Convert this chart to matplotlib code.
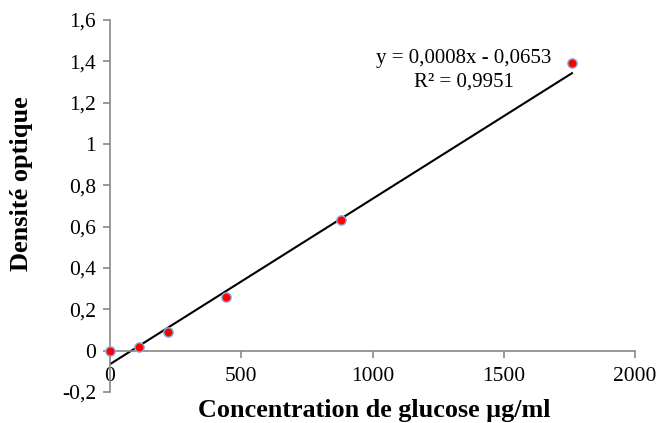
import matplotlib
matplotlib.use("Agg")
import matplotlib.pyplot as plt
import numpy as np

conc = [0, 110, 220, 440, 880, 1760]
od = [0.0, 0.02, 0.09, 0.26, 0.63, 1.39]
slope = 0.0008
intercept = -0.0653
eq_text = "y = 0,0008x - 0,0653"
r2_text = "R² = 0,9951"
xticks = [0, 500, 1000, 1500, 2000]
yticks = [-0.2, 0, 0.2, 0.4, 0.6, 0.8, 1.0, 1.2, 1.4, 1.6]

plt.rcParams['font.family'] = ['Liberation Serif', 'DejaVu Serif']

fig = plt.figure(figsize=(6.61, 4.23), dpi=100)
ax = fig.add_axes([110/661, 1-392/423, (635-110)/661, (392-20)/423])

xl = np.array([conc[0], conc[-1]])
ax.plot(xl, slope*xl + intercept, color='black', lw=1.5, zorder=2)
ax.scatter(conc, od, s=45, facecolor='#ff0000', edgecolor='#7fb2e5', linewidth=1.0, zorder=3, clip_on=False)

ax.set_xlim(0, 2000)
ax.set_ylim(-0.2, 1.6)
ax.set_xticks(xticks)
ax.set_yticks(yticks)
ax.set_xticklabels([str(v) for v in xticks])
def fmt(v):
    s = f"{v:.1f}".replace('.', ',')
    if s.endswith(',0'):
        s = s[:-2]
    return s
ax.set_yticklabels([fmt(v) for v in yticks])

for s in ['top', 'right']:
    ax.spines[s].set_visible(False)
ax.spines['bottom'].set_position(('data', 0))
for s in ['bottom', 'left']:
    ax.spines[s].set_color('#888888')
    ax.spines[s].set_linewidth(1.2)
ax.tick_params(axis='both', direction='out', length=5, width=1.2, color='#888888', labelsize=15.5, labelcolor='black')
ax.tick_params(axis='x', pad=7)
ax.tick_params(axis='y', pad=5)

fig.text(22/661, 1-184/423, "Densité optique", rotation=90, ha='center', va='center', fontsize=19, fontweight='bold')
fig.text(374/661, 1-410/423, "Concentration de glucose µg/ml", ha='center', va='center', fontsize=18.8, fontweight='bold')

ax.text(1349, 1.415, eq_text, ha='center', va='center', fontsize=15)
ax.text(1349, 1.30, r2_text, ha='center', va='center', fontsize=15)

fig.savefig("out.png", dpi=100)
